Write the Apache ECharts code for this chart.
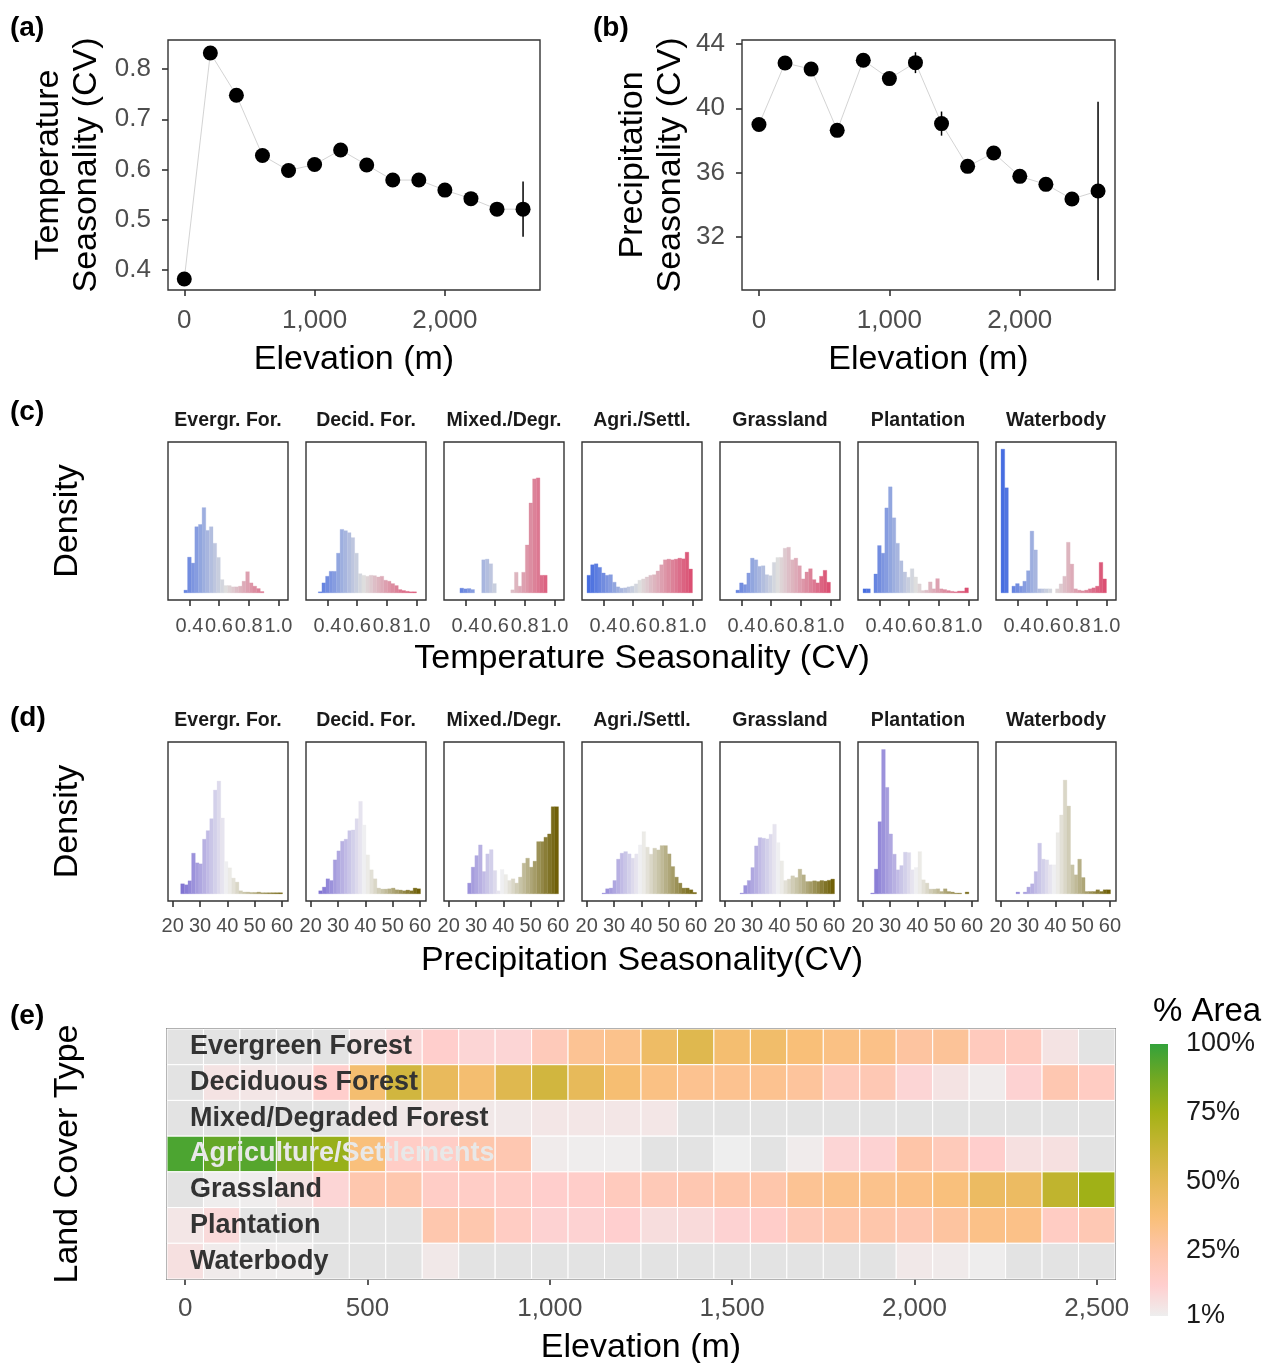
<!DOCTYPE html>
<html><head><meta charset="utf-8">
<script src="https://cdn.jsdelivr.net/npm/echarts@6/dist/echarts.min.js"></script>
<style>html,body{margin:0;padding:0;background:#fff}#c{width:1265px;height:1363px}</style>
</head><body><div id="c"></div>
<script>
// ---------------- DATA ----------------
const elevation = [0,200,400,600,800,1000,1200,1400,1600,1800,2000,2200,2400,2600];
const tempCV = [0.382,0.832,0.748,0.628,0.598,0.610,0.639,0.609,0.579,0.579,0.559,0.542,0.521,0.521];
const tempSE = [0.004,0.004,0.004,0.003,0.003,0.003,0.003,0.003,0.004,0.004,0.005,0.006,0.008,0.055];
const precCV = [38.99,42.82,42.44,38.63,42.99,41.85,42.84,39.05,36.39,37.22,35.77,35.27,34.36,34.86];
const precSE = [0.2,0.2,0.2,0.2,0.2,0.2,0.65,0.75,0.2,0.2,0.2,0.2,0.25,5.55];

const landCoverShort = ['Evergr. For.','Decid. For.','Mixed./Degr.','Agri./Settl.','Grassland','Plantation','Waterbody'];
const landCoverLong = ['Evergreen Forest','Deciduous Forest','Mixed/Degraded Forest','Agriculture/Settlements','Grassland','Plantation','Waterbody'];

// histogram bins (temperature CV): 29 bins
const tempBinStart = 0.29, tempBinWidth = 0.0245;
const tempEvergreen = [0,0,0,2.7,36,30,66.7,69,86,63,66.7,50,35.7,13.3,7.3,7.3,6,6,6.7,11.7,21.3,10,6.7,4.3,1.3,0,0,0,0];
const tempDeciduous = [0,0,1,10,16.7,21.7,21.7,40,64,62.7,60.7,55.7,40,19.3,17.7,16.7,17.7,17.3,16,16.7,12.7,11.7,9.3,7.3,3.3,2.3,1.5,1,1];
const tempMixed = [0,0,0,4.7,4,4.3,3.3,0,0,33.3,34,29.3,9.3,0,0,0,0,3,20.7,6.7,20.7,48.3,90.7,115,116,17.7,17.7,0,0];
const tempAgri = [17.7,28.3,29.3,25.7,20,17.7,18.3,10.7,6,4.7,5,6,6.7,9,12.7,14,16,17.7,18.3,22,28.3,33.3,34,33.3,34,35,34.3,41,24];
const tempGrass = [0,0,0,2.7,10,8.3,20,35,33.3,26.7,27.3,18.3,17.3,30.7,35.7,35.7,45,46,33.3,35,27.3,14,21,24.3,13.3,10,16.7,22.7,10.7];
const tempPlant = [4,4,0,19,47.7,40,85.7,107,75.7,50,32.3,21,15.7,24.3,16,9,2.3,2.7,11,4,14.3,4,3.3,2.3,1.5,1,1.7,1.7,5];
const tempWater = [145,106,0,6.7,9.3,6.7,11.7,22.3,62.3,43.3,4,4,4,4,0,4,9,16.7,51,29,4,2.7,2,2.7,4,5,6.7,30.7,14];

// histogram bins (precipitation CV): 30 bins
const precBinStart = 20.28, precBinWidth = 1.33;
const precEvergreen = [0,0,10,9,13,40.7,31,30,54.7,63.3,75.3,104,113,76,32.3,26,15.7,11.7,3,1.7,1.7,1.3,1.3,1.7,1,1,1,1,1,1];
const precDeciduous = [0,0,3,6.7,15,13.3,34,43,52.7,54.7,63.3,64,75.3,92.7,69,39,24,15,5.7,4.7,4.7,5,5.7,4,3.7,3,3.7,3,5.7,5];
const precMixed = [0,0,0,0,0,10.7,26.7,38.3,49,22.3,40,44.3,23.3,3,24.3,19.3,13.3,15,10.7,16.7,30.7,35.7,26.7,32.7,52.3,52.3,56.7,60,87.3,87.3];
const precAgri = [0,0,0,0,0.7,5,5.7,13.3,34.7,40.7,42.3,40,35.7,40,49,62.3,46.7,39.7,45.7,44,48.3,48.3,40,27.3,16.7,10.7,5.7,5.7,4,1.3];
const precGrass = [0,0,0,0,0.7,8.3,13.3,26.3,48,56.3,55.7,55,59.7,69.7,51.3,33,13.3,14.7,18,16.3,24.7,19,12.3,12.3,13,12.3,13.3,12.7,13.5,14.7];
const precPlant = [0,0,0.7,24.7,72.3,144.7,106.7,60,39.7,24,28.3,41.7,41.3,24,26.3,42.3,14,10.7,4.7,4.7,5,2.3,5,2.3,1.7,0.7,0.7,0,1.7,0];
const precWater = [0,0,0,0,1.7,0,1.7,6.7,10,22.3,50.7,34.7,34,29,29,61.3,79,114,88,29,19,34.7,16.3,2.3,2.3,2.3,4,2.3,4,4];
const densityMax = 145;

// heatmap: % area by 100 m elevation band (null = no cover)
const elevBands = [0,100,200,300,400,500,600,700,800,900,1000,1100,1200,1300,1400,1500,1600,1700,1800,1900,2000,2100,2200,2300,2400,2500];
const areaEvergreen = [null,null,null,null,null,4,9,13,10,10,19,30,32,44,52,40,42,37,34,33,27,29,18,17,5,null];
const areaDeciduous = [null,5,4,4,13,40,58,47,40,52,58,48,39,34,31,31,31,28,19,21,10,5,2,11,22,16];
const areaMixed = [null,null,null,null,null,3,3,4,3,3,4,4,4,4,null,null,null,null,null,null,null,null,null,null,null,null];
const areaAgri = [95,90,93,85,78,36,15,15,24,22,2,1.5,1.5,null,null,1,null,2,10,11,25,19,13,6,6,null];
const areaGrass = [null,1.5,1.5,5,10,23,23,15,15,15,13,14,18,20,22,24,24,30,32,32,33,36,45,45,65,76];
const areaPlant = [4,8,null,null,null,null,null,23,23,16,11,11,12,7,8,11,14,20,24,24,22,27,33,33,16,21];
const areaWater = [6,2,1.5,1.5,null,null,null,3,null,null,null,null,null,null,null,null,null,null,null,null,3,2.5,1.2,null,null,null];
const legendTicks = [1,25,50,75,100];

// ---------------- STYLE ----------------
const FONT = '"Liberation Sans", Arial, Helvetica, sans-serif';
const TICK = '#4d4d4d', BORDER = '#333333';
const areaStops = [[1,'#EEEEEE'],[12,'#FFCFCF'],[25,'#FEC5A8'],[37,'#F9BF78'],[50,'#E4B954'],[62,'#C8B535'],[75,'#A4B216'],[88,'#6FA823'],[100,'#33A23B']];
const tempStops = [[0.29,'#4169E1'],[0.645,'#DEDEDE'],[1.0,'#DB4B6F']];
const precStops = [[20.28,'#6A5ACD'],[40,'#F2F2F2'],[60.2,'#6B5B00']];

function hex(h){return [parseInt(h.slice(1,3),16),parseInt(h.slice(3,5),16),parseInt(h.slice(5,7),16)];}
function scaleColor(stops, v){
  if (v <= stops[0][0]) return stops[0][1];
  for (let i=1;i<stops.length;i++){
    if (v <= stops[i][0]){
      const t=(v-stops[i-1][0])/(stops[i][0]-stops[i-1][0]);
      const a=hex(stops[i-1][1]), b=hex(stops[i][1]);
      return 'rgb('+a.map((c,j)=>Math.round(c+(b[j]-c)*t)).join(',')+')';
    }
  }
  return stops[stops.length-1][1];
}
const thousands = v => String(v).replace(/\B(?=(\d{3})+(?!\d))/g, ',');

const grids=[], xAxes=[], yAxes=[], series=[], graphics=[];
function addGrid(g){ grids.push(Object.assign({show:true,borderColor:BORDER,borderWidth:1.4,backgroundColor:'transparent',containLabel:false,outerBoundsMode:'none'},g)); return grids.length-1; }
function tickCfg(vals){ return {show:true,length:6,lineStyle:{color:BORDER,width:1.6},customValues:vals}; }
const noLine = {show:false,onZero:false};

// ---------- (a) & (b) ----------
function elevPanel(gi, yVals, yFmt, yMin, yMax, xMin, xMax, yName, yGap, vals, se){
  xAxes.push({type:'value',gridIndex:gi,min:xMin,max:xMax,axisLine:noLine,splitLine:{show:false},
    axisTick:tickCfg([0,1000,2000]),
    axisLabel:{customValues:[0,1000,2000],formatter:thousands,fontSize:26,color:TICK,fontFamily:FONT,margin:18},
    name:'Elevation (m)',nameLocation:'middle',nameGap:53,nameTextStyle:{fontSize:34,color:'#000',fontFamily:FONT}});
  yAxes.push({type:'value',gridIndex:gi,min:yMin,max:yMax,axisLine:noLine,splitLine:{show:false},
    axisTick:tickCfg(yVals),
    axisLabel:{customValues:yVals,formatter:yFmt,fontSize:26,color:TICK,fontFamily:FONT,margin:17},
    name:yName,nameLocation:'middle',nameRotate:90,nameGap:yGap,
    nameTextStyle:{fontSize:34,color:'#000',fontFamily:FONT,lineHeight:38,align:'center'}});
  const idx = xAxes.length-1;
  series.push({type:'line',xAxisIndex:idx,yAxisIndex:idx,data:elevation.map((e,i)=>[e,vals[i]]),
    symbol:'circle',symbolSize:15,itemStyle:{color:'#000'},lineStyle:{color:'#c8c8c8',width:0.8},z:3});
  series.push({type:'custom',xAxisIndex:idx,yAxisIndex:idx,data:elevation.map((e,i)=>[e,vals[i]-se[i],vals[i]+se[i]]),
    encode:{x:0,y:[1,2]},z:4,
    renderItem:(p,api)=>{const a=api.coord([api.value(0),api.value(1)]),b=api.coord([api.value(0),api.value(2)]);
      return {type:'line',shape:{x1:a[0],y1:a[1],x2:b[0],y2:b[1]},style:{stroke:'#000',lineWidth:1.5}};}});
}
elevPanel(addGrid({left:168,top:40,width:372,height:250}),[0.4,0.5,0.6,0.7,0.8],v=>v.toFixed(1),0.36,0.858,-125,2730,
  'Temperature\nSeasonality (CV)',62,tempCV,tempSE);
elevPanel(addGrid({left:742,top:40,width:373,height:250}),[32,36,40,44],v=>String(v),28.7,44.25,-130,2730,
  'Precipitation\nSeasonality (CV)',52,precCV,precSE);

// ---------- (c) & (d) histograms ----------
const tempHists=[tempEvergreen,tempDeciduous,tempMixed,tempAgri,tempGrass,tempPlant,tempWater];
const precHists=[precEvergreen,precDeciduous,precMixed,precAgri,precGrass,precPlant,precWater];
function histRow(top,height,hists,start,width,xMin,xMax,ticks,fmt,stops,xName,lblMargin,nameGap){
  hists.forEach((hs,i)=>{
    const gi=addGrid({left:168+138*i,top:top,width:120,height:height});
    xAxes.push({type:'value',gridIndex:gi,min:xMin,max:xMax,axisLine:noLine,splitLine:{show:false},
      axisTick:tickCfg(ticks),
      axisLabel:{customValues:ticks,formatter:fmt,fontSize:20,color:TICK,fontFamily:FONT,margin:lblMargin},
      name:i===3?xName:'',nameLocation:'middle',nameGap:nameGap,nameTextStyle:{fontSize:34,color:'#000',fontFamily:FONT}});
    yAxes.push({type:'value',gridIndex:gi,min:-0.05*densityMax,max:1.05*densityMax,show:true,
      axisLine:noLine,axisTick:{show:false},axisLabel:{show:false},splitLine:{show:false},
      name:i===0?'Density':'',nameLocation:'middle',nameRotate:90,nameGap:83,
      nameTextStyle:{fontSize:34,color:'#000',fontFamily:FONT}});
    const idx=xAxes.length-1;
    const data=hs.map((h,k)=>[start+k*width,start+(k+1)*width,h]).filter(d=>d[2]>0);
    series.push({type:'custom',xAxisIndex:idx,yAxisIndex:idx,data:data,encode:{x:[0,1],y:2},
      renderItem:(p,api)=>{const x0=api.value(0),x1=api.value(1),h=api.value(2);
        const a=api.coord([x0,h]),b=api.coord([x1,0]);const c=scaleColor(stops,(x0+x1)/2);
        return {type:'rect',shape:{x:a[0],y:a[1],width:b[0]-a[0],height:b[1]-a[1]},style:{fill:c,stroke:c,lineWidth:0.3}};}});
    graphics.push({type:'text',x:228+138*i,y:top-21,style:{text:landCoverShort[i],font:'bold 19.5px '+FONT,fill:'#1a1a1a',textAlign:'center',textVerticalAlign:'middle'}});
  });
}
histRow(442,158,tempHists,tempBinStart,tempBinWidth,0.256,1.065,[0.4,0.6,0.8,1.0],v=>v.toFixed(1),tempStops,'Temperature Seasonality (CV)',16,42);
histRow(742,159,precHists,precBinStart,precBinWidth,18.28,62.2,[20,30,40,50,60],v=>String(v),precStops,'Precipitation Seasonality(CV)',15,43);

// ---------- (e) heatmap ----------
const areaRows=[areaEvergreen,areaDeciduous,areaMixed,areaAgri,areaGrass,areaPlant,areaWater];
const ge=addGrid({left:167,top:1029,width:948,height:250});
xAxes.push({type:'value',gridIndex:ge,min:-50,max:2550,axisLine:noLine,splitLine:{show:false},
  axisTick:tickCfg([0,500,1000,1500,2000,2500]),
  axisLabel:{customValues:[0,500,1000,1500,2000,2500],formatter:thousands,fontSize:26,color:TICK,fontFamily:FONT,margin:17},
  name:'Elevation (m)',nameLocation:'middle',nameGap:52,nameTextStyle:{fontSize:34,color:'#000',fontFamily:FONT}});
yAxes.push({type:'category',gridIndex:ge,inverse:true,
  data:landCoverLong.map((n,i)=>({value:n,textStyle:{color:i===3?'#e8e8e8':'#333333'}})),
  axisLine:noLine,axisTick:{show:false},splitLine:{show:false},
  axisLabel:{inside:true,interval:0,margin:23,fontSize:27,fontWeight:'bold',fontFamily:FONT,color:'#333333',padding:[6,0,0,0]},z:10,
  name:'Land Cover Type',nameLocation:'middle',nameRotate:90,nameGap:82,nameTextStyle:{fontSize:34,color:'#000',fontFamily:FONT}});
const heatIdx=xAxes.length-1;
const heatData=[];
areaRows.forEach((row,r)=>row.forEach((v,c)=>heatData.push([elevBands[c],r,v===null?-1:v])));
series.push({type:'custom',xAxisIndex:heatIdx,yAxisIndex:heatIdx,data:heatData,encode:{x:0,y:1},z:1,
  renderItem:(p,api)=>{const x=api.value(0),r=api.value(1),v=api.value(2);
    const a=api.coord([x-50,r]),b=api.coord([x+50,r]);const h=api.size([0,1])[1];
    return {type:'rect',shape:{x:a[0],y:a[1]-h/2,width:b[0]-a[0],height:h},
      style:{fill:v<0?'#E3E3E3':scaleColor(areaStops,v),stroke:'#ffffff',lineWidth:1}};}});

// ---------- legend colour bar ----------
const gl=addGrid({left:1150,top:1044,width:18,height:272,show:false});
xAxes.push({type:'value',gridIndex:gl,min:0,max:1,show:false});
yAxes.push({type:'value',gridIndex:gl,min:1,max:100,position:'right',axisLine:noLine,splitLine:{show:false},
  axisTick:{show:true,inside:true,length:4,lineStyle:{color:'#ffffff',width:1},customValues:[25,50,75]},
  axisLabel:{customValues:legendTicks,formatter:'{value}%',fontSize:27,color:'#1a1a1a',fontFamily:FONT,margin:18}});
const legIdx=xAxes.length-1;
series.push({type:'custom',xAxisIndex:legIdx,yAxisIndex:legIdx,data:[[0,1,1,100]],encode:{x:[0,1],y:[2,3]},z:1,
  renderItem:(p,api)=>{const a=api.coord([api.value(0),api.value(3)]),b=api.coord([api.value(1),api.value(2)]);
    const grad=new echarts.graphic.LinearGradient(0,0,0,1,areaStops.map(s=>({offset:1-(s[0]-1)/99,color:s[1]})).reverse());
    return {type:'rect',shape:{x:a[0],y:a[1],width:b[0]-a[0],height:b[1]-a[1]},style:{fill:grad}};}});

// ---------- labels ----------
const lab=(t,x,y)=>graphics.push({type:'text',x:x,y:y,style:{text:t,font:'bold 28px '+FONT,fill:'#000',textVerticalAlign:'middle'}});
lab('(a)',10,28); lab('(b)',593,28); lab('(c)',10,412); lab('(d)',10,718); lab('(e)',10,1016);
graphics.push({type:'text',x:1207,y:1012,style:{text:'% Area',font:'33px '+FONT,fill:'#000',textAlign:'center',textVerticalAlign:'middle'}});

const chart=echarts.init(document.getElementById('c'),null,{renderer:'canvas'});
chart.setOption({animation:false,backgroundColor:'#fff',textStyle:{fontFamily:FONT},
  grid:grids,xAxis:xAxes,yAxis:yAxes,series:series,graphic:graphics});
</script></body></html>
